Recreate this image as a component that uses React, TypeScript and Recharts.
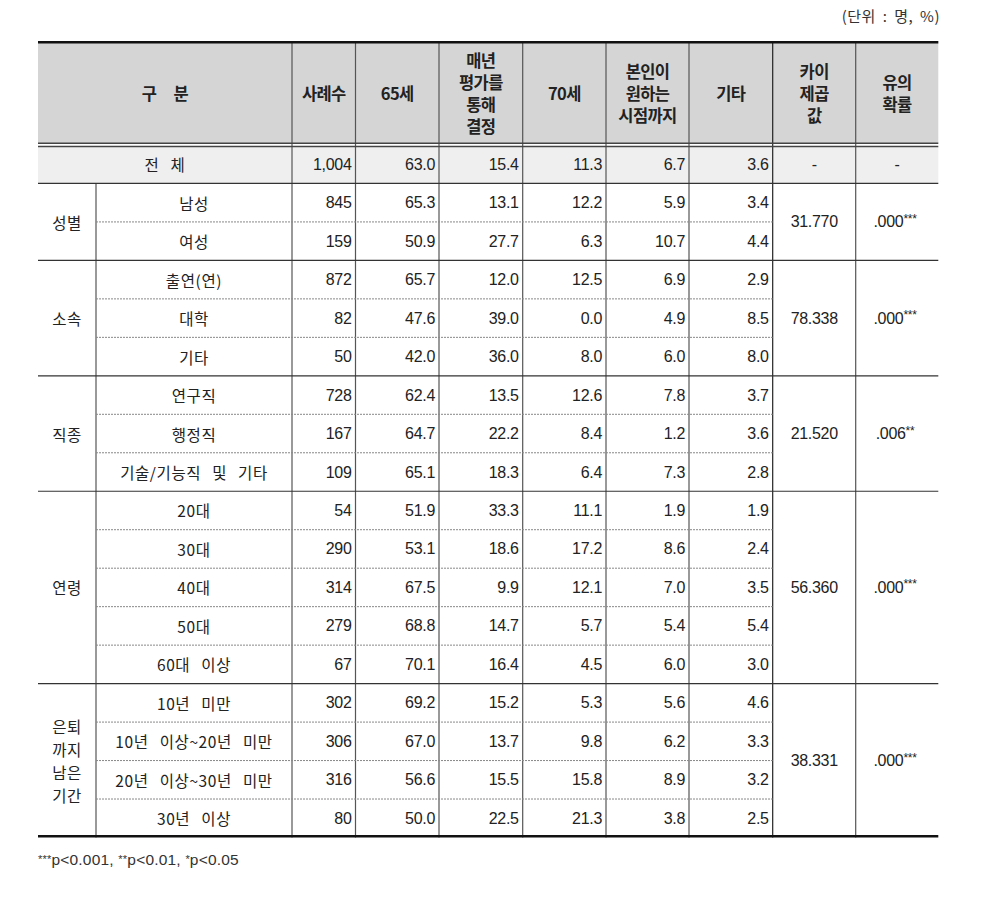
import React from "react";
import {
  ScatterChart,
  Scatter,
  XAxis,
  YAxis,
  ReferenceLine,
  ReferenceArea,
} from "recharts";

// header labels (line breaks as in the source table)
const headerLabels = [
  ["구 분"],
  ["사례수"],
  ["65세"],
  ["매년", "평가를", "통해", "결정"],
  ["70세"],
  ["본인이", "원하는", "시점까지"],
  ["기타"],
  ["카이", "제곱", "값"],
  ["유의", "확률"],
];

const groupLabels = [["성별"], ["소속"], ["직종"], ["연령"], ["은퇴", "까지", "남은", "기간"]];
const groupSizes = [2, 3, 3, 5, 4];

const rowLabels = [
  "전 체",
  "남성", "여성",
  "출연(연)", "대학", "기타",
  "연구직", "행정직", "기술/기능직 및 기타",
  "20대", "30대", "40대", "50대", "60대 이상",
  "10년 미만", "10년 이상~20년 미만", "20년 이상~30년 미만", "30년 이상",
];

const cases = [1004, 845, 159, 872, 82, 50, 728, 167, 109, 54, 290, 314, 279, 67, 302, 306, 316, 80];
const age65 = [63.0, 65.3, 50.9, 65.7, 47.6, 42.0, 62.4, 64.7, 65.1, 51.9, 53.1, 67.5, 68.8, 70.1, 69.2, 67.0, 56.6, 50.0];
const yearlyReview = [15.4, 13.1, 27.7, 12.0, 39.0, 36.0, 13.5, 22.2, 18.3, 33.3, 18.6, 9.9, 14.7, 16.4, 15.2, 13.7, 15.5, 22.5];
const age70 = [11.3, 12.2, 6.3, 12.5, 0.0, 8.0, 12.6, 8.4, 6.4, 11.1, 17.2, 12.1, 5.7, 4.5, 5.3, 9.8, 15.8, 21.3];
const ownChoice = [6.7, 5.9, 10.7, 6.9, 4.9, 6.0, 7.8, 1.2, 7.3, 1.9, 8.6, 7.0, 5.4, 6.0, 5.6, 6.2, 8.9, 3.8];
const others = [3.6, 3.4, 4.4, 2.9, 8.5, 8.0, 3.7, 3.6, 2.8, 1.9, 2.4, 3.5, 5.4, 3.0, 4.6, 3.3, 3.2, 2.5];

const chiSquare = [31.77, 78.338, 21.52, 56.36, 38.331];
const pValues = [0.0, 0.0, 0.006, 0.0, 0.0];

// layout
const W = 1007;
const H = 898;
const COL_EDGES = [0, 58, 254, 317.5, 401, 484.7, 568, 651, 734.7, 817.7, 900.3];
const X_MAX = 900.3;
const HEADER_TOP = -2.703;
const N_ROWS = 18;
const TEXT = "#222";
const NUM_FONT = "'Liberation Sans', Arial, 'Noto Sans CJK KR', sans-serif";
const KR_FONT = "'Noto Sans CJK KR', 'Liberation Sans', sans-serif";

const stars = (p: number) => (p < 0.001 ? "***" : p < 0.01 ? "**" : p < 0.05 ? "*" : "");

type Cell = {
  x: number;
  y: number;
  lines: string[];
  anchor?: "start" | "middle" | "end";
  kind?: "header" | "num" | "kr" | "p";
  sup?: string;
};

const mid = (a: number, b: number) => (COL_EDGES[a] + COL_EDGES[b]) / 2;

const headerCells: Cell[] = headerLabels.map((lines, i) => ({
  x: i === 0 ? mid(0, 2) : mid(i + 1, i + 2),
  y: (HEADER_TOP - 0.045) / 2 + 0.03,
  lines,
  kind: "header",
}));

const labelCells: Cell[] = rowLabels.map((label, r) => ({
  x: r === 0 ? mid(0, 2) : mid(1, 2),
  y: r + 0.5,
  lines: [label],
  kind: "kr",
}));

const groupStarts = groupSizes.map((_, g) => 1 + groupSizes.slice(0, g).reduce((a, b) => a + b, 0));

const groupCells: Cell[] = groupLabels.map((lines, g) => ({
  x: mid(0, 1),
  y: groupStarts[g] + groupSizes[g] / 2,
  lines,
  kind: "kr",
}));

const series = [cases, age65, yearlyReview, age70, ownChoice, others];
const numberCells: Cell[] = series.flatMap((vals, c) =>
  vals.map((v, r) => ({
    x: COL_EDGES[c + 3],
    y: r + 0.5,
    lines: [c === 0 ? v.toLocaleString("en-US") : v.toFixed(1)],
    anchor: "end" as const,
    kind: "num" as const,
  }))
);

const testCells: Cell[] = [
  { x: mid(8, 9), y: 0.5, lines: ["-"], kind: "num" },
  { x: mid(9, 10), y: 0.5, lines: ["-"], kind: "num" },
  ...chiSquare.map((v, g) => ({
    x: mid(8, 9),
    y: groupStarts[g] + groupSizes[g] / 2,
    lines: [v.toFixed(3)],
    kind: "num" as const,
  })),
  ...pValues.map((p, g) => ({
    x: mid(9, 10) - 2,
    y: groupStarts[g] + groupSizes[g] / 2,
    lines: [p.toFixed(3).replace(/^0/, "")],
    sup: stars(p),
    kind: "p" as const,
  })),
];

const CellText = (props: any) => {
  const { cx, cy, payload } = props;
  const c = payload as Cell;
  const header = c.kind === "header";
  const kr = c.kind === "kr";
  const lh = header ? 22 : 23;
  const anchor = c.anchor || "middle";
  const x = anchor === "end" ? cx - 4 : cx;
  const font = kr || header ? KR_FONT : NUM_FONT;
  const size = header ? 16.5 : kr ? 15.5 : 16;
  return (
    <g>
      {c.lines.map((line, i) => (
        <text
          key={i}
          x={x}
          y={cy + (i - (c.lines.length - 1) / 2) * lh}
          textAnchor={anchor}
          dominantBaseline="central"
          fontFamily={font}
          fontSize={size}
          fontWeight={header ? 700 : 400}
          letterSpacing={header ? -0.6 : kr ? 0.6 : -0.3}
          wordSpacing={header ? 14 : kr ? 7 : 0}
          fill={TEXT}
        >
          {line}
          {c.sup ? (
            <tspan fontSize={12} dy={-3}>
              {c.sup}
            </tspan>
          ) : null}
        </text>
      ))}
    </g>
  );
};

const groupRules = groupStarts;
const dashedRules = Array.from({ length: N_ROWS }, (_, r) => r).filter(
  (r) => r > 1 && !groupRules.includes(r)
);

export default function App() {
  return (
    <div style={{ position: "absolute", left: 0, top: 0, width: W, height: H, background: "#fff" }}>
      <div
        style={{
          position: "absolute",
          right: W - 940,
          top: 5,
          fontFamily: KR_FONT,
          fontSize: 15,
          letterSpacing: 0.5,
          wordSpacing: 3,
          color: "#333",
        }}
      >
        (단위 : 명, %)
      </div>
      <ScatterChart width={W} height={H} margin={{ top: 41, right: W - 938.3, bottom: H - 837.5, left: 38 }}>
        <XAxis type="number" dataKey="x" domain={[0, X_MAX]} allowDataOverflow hide />
        <YAxis type="number" dataKey="y" domain={[HEADER_TOP, N_ROWS]} allowDataOverflow reversed hide />
        <ReferenceArea x1={0} x2={X_MAX} y1={HEADER_TOP} y2={-0.045} fill="#d5d5d5" fillOpacity={1} stroke="none" />
        <ReferenceArea x1={0} x2={X_MAX} y1={0.04} y2={1} fill="#efefef" fillOpacity={1} stroke="none" />
        {COL_EDGES.slice(2, 10).map((x) => (
          <ReferenceLine key={"v" + x} x={x} stroke={x === COL_EDGES[8] ? "#222" : "#555"} strokeWidth={1.2} />
        ))}
        <ReferenceLine segment={[{ x: COL_EDGES[1], y: 1 }, { x: COL_EDGES[1], y: N_ROWS }]} stroke="#555" strokeWidth={1.2} />
        {dashedRules.map((r) => (
          <ReferenceLine
            key={"d" + r}
            segment={[{ x: COL_EDGES[1], y: r }, { x: COL_EDGES[8], y: r }]}
            stroke="#888"
            strokeWidth={1}
            strokeDasharray="2 1"
          />
        ))}
        {[1, ...groupRules.slice(1)].map((r) => (
          <ReferenceLine key={"g" + r} y={r} stroke="#333" strokeWidth={1.2} />
        ))}
        <ReferenceLine y={HEADER_TOP + 0.03} stroke="#111" strokeWidth={2.5} />
        <ReferenceLine y={-0.045} stroke="#444" strokeWidth={1.5} />
        <ReferenceLine y={0.04} stroke="#444" strokeWidth={1.5} />
        <ReferenceLine y={N_ROWS - 0.03} stroke="#111" strokeWidth={2.5} />
        <Scatter data={headerCells} shape={CellText} isAnimationActive={false} />
        <Scatter data={labelCells} shape={CellText} isAnimationActive={false} />
        <Scatter data={groupCells} shape={CellText} isAnimationActive={false} />
        <Scatter data={numberCells} shape={CellText} isAnimationActive={false} />
        <Scatter data={testCells} shape={CellText} isAnimationActive={false} />
      </ScatterChart>
      <div
        style={{
          position: "absolute",
          left: 38,
          top: 851,
          fontFamily: NUM_FONT,
          fontSize: 15.5,
          letterSpacing: 0.2,
          color: "#333",
        }}
      >
        <span style={{ fontSize: 11, verticalAlign: 2 }}>***</span>p&lt;0.001,{" "}
        <span style={{ fontSize: 11, verticalAlign: 2 }}>**</span>p&lt;0.01,{" "}
        <span style={{ fontSize: 11, verticalAlign: 2 }}>*</span>p&lt;0.05
      </div>
    </div>
  );
}
